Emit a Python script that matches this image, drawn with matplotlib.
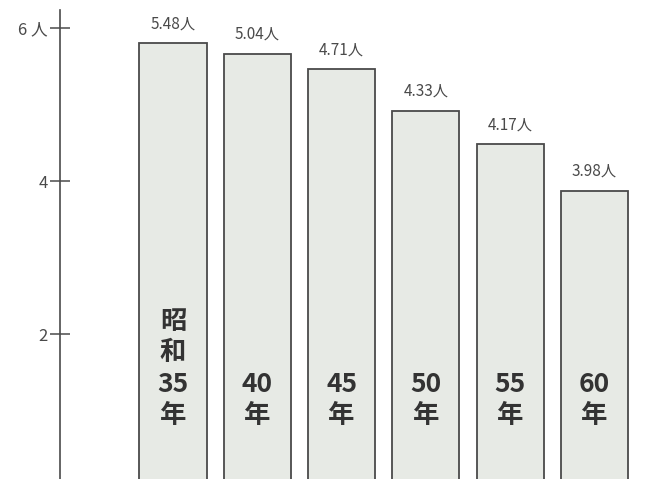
import matplotlib
matplotlib.use("Agg")
import matplotlib.pyplot as plt

# Data
categories = ["昭\n和\n35\n年", "40\n年", "45\n年", "50\n年", "55\n年", "60\n年"]
value_labels = ["5.48人", "5.04人", "4.71人", "4.33人", "4.17人", "3.98人"]
# bar heights as drawn against the axis scale
bar_heights = [5.80, 5.66, 5.46, 4.92, 4.48, 3.87]
y_ticks = [2, 4, 6]
y_tick_labels = ["2", "4", "6 人"]

NARROW = ["Liberation Sans Narrow", "Noto Sans CJK JP", "DejaVu Sans"]
CJK = ["Noto Sans CJK JP", "DejaVu Sans"]

fig = plt.figure(figsize=(6.49, 4.79), dpi=100)
ax = fig.add_axes([0, 0, 1, 1])

x = list(range(len(categories)))
bars = ax.bar(x, bar_heights, width=0.795, color="#e7eae5",
              edgecolor="#4a4a4a", linewidth=1.3, zorder=2)

for xi, h, lab in zip(x, bar_heights, value_labels):
    ax.annotate(lab, (xi, h), xytext=(0, 8), textcoords="offset points",
                ha="center", va="bottom", fontsize=11, color="#4a4a4a",
                family=NARROW)

for xi, cat in zip(x, categories):
    ax.text(xi, 0.76, cat, ha="center", va="bottom", fontsize=19,
            fontweight="bold", color="#333333", family=CJK,
            linespacing=1.2, zorder=3)

ax.set_xlim(-2.052, 5.646)
ax.set_ylim(0.105, 6.366)

for s in ["top", "right", "bottom"]:
    ax.spines[s].set_visible(False)
ax.spines["left"].set_position(("data", -1.34))
ax.spines["left"].set_color("#4a4a4a")
ax.spines["left"].set_linewidth(1.2)
ax.spines["left"].set_bounds(0.105, 6.24)

ax.set_xticks([])
ax.set_yticks(y_ticks)
ax.set_yticklabels(y_tick_labels, family=NARROW, fontsize=12, color="#4a4a4a")
ax.tick_params(axis="y", direction="inout", length=14, width=1.1,
               color="#4a4a4a", pad=2)
ax.patch.set_alpha(0)

fig.savefig("out.png", dpi=100)
